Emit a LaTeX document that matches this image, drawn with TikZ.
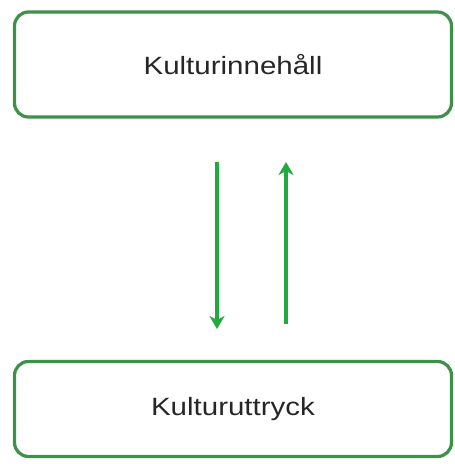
\documentclass[tikz,border=0pt]{standalone}
\usepackage{fontspec}
\setmainfont{Liberation Sans}
\usetikzlibrary{arrows.meta}
\definecolor{boxgreen}{RGB}{62,145,72}
\definecolor{arrgreen}{RGB}{34,170,64}
\tikzset{
  card/.style={draw=boxgreen, line width=3.2pt, rounded corners=14pt, fill=white,
    minimum width=437pt, inner sep=0pt, font=\fontsize{25}{29}\selectfont, text=black!85},
  flow/.style={draw=arrgreen, line width=3.2pt, -{Stealth[length=13pt,width=15pt,inset=4pt]}}
}
\begin{document}
\begin{tikzpicture}[x=1pt,y=1pt]
\useasboundingbox (0,0) rectangle (455,464);
\node[card, minimum height=105pt] (top) at (233,399.5) {\scalebox{1.18}[1]{Kulturinnehåll}};
\node[card, minimum height=95pt] (bot) at (233,55) {\scalebox{1.18}[1]{Kulturuttryck}};
\coordinate (a1) at (217,302);
\coordinate (a2) at (217,135);
\coordinate (b1) at (286,140);
\coordinate (b2) at (286,302);
\draw[flow] (a1) -- (a2);
\draw[flow] (b1) -- (b2);
\end{tikzpicture}
\end{document}
